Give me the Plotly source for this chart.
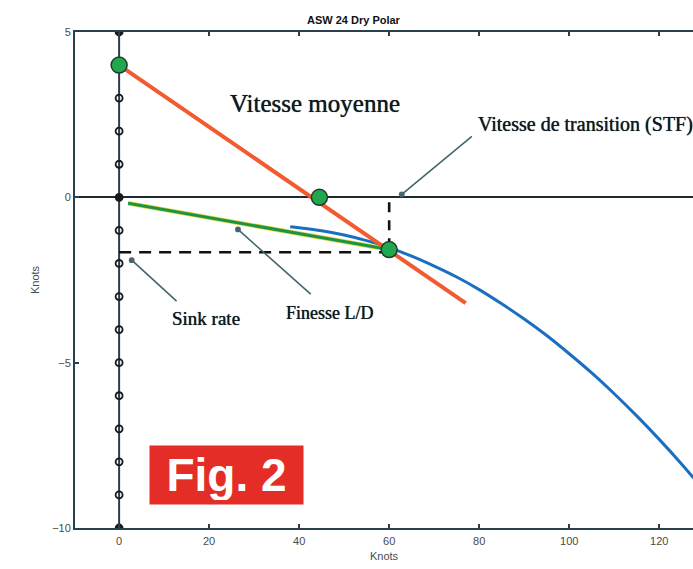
import plotly.graph_objects as go

# ASW 24 dry polar (speed in knots, sink in knots)
polar_speed = [38, 40, 45, 50, 55, 60, 65, 70, 75, 80, 85, 90, 95, 100, 105, 110, 115, 120, 125, 130]
polar_sink = [-0.89, -0.92, -1.01, -1.14, -1.31, -1.52, -1.78, -2.08, -2.41, -2.79, -3.22, -3.68,
              -4.18, -4.73, -5.31, -5.94, -6.61, -7.32, -8.07, -8.87]

# MacCready line from the climb rate (4 kt) through the speed-to-fly point
mc_speed = [0, 77]
mc_sink = [4.0, -3.2]

# Glide ratio line (L/D)
ld_speed = [2, 60]
ld_sink = [-0.18, -1.58]

# Key points: climb rate, average speed, speed-to-fly
key_speed = [0, 44.5, 60]
key_sink = [4.0, 0.0, -1.58]

# Speed-to-fly / sink-rate reference
stf_speed = 60
stf_sink = -1.66

# Vertical scale on the speed = 0 axis
scale_y = list(range(5, -11, -1))

axis_col = "#27404c"
text_col = "#111a22"
lead_col = "#46656f"

fig = go.Figure()

# vertical scale line at speed 0
fig.add_trace(go.Scatter(
    x=[0] * len(scale_y), y=scale_y, mode="lines+markers",
    line=dict(color=axis_col, width=2),
    marker=dict(
        symbol=["circle" if v in (5, 0, -10) else "circle-open" for v in scale_y],
        size=7,
        color="#1a1a1a", line=dict(color="#1a1a1a", width=1.8)),
    hoverinfo="skip", showlegend=False))

# dashed reference lines
fig.add_trace(go.Scatter(
    x=[0, stf_speed], y=[stf_sink, stf_sink], mode="lines",
    line=dict(color="#111111", width=2.6, dash="12px,8px"),
    showlegend=False, hoverinfo="skip"))
fig.add_trace(go.Scatter(
    x=[stf_speed, stf_speed], y=[-0.15, stf_sink], mode="lines",
    line=dict(color="#111111", width=2.6, dash="10px,8px"),
    showlegend=False, hoverinfo="skip"))

# polar curve
fig.add_trace(go.Scatter(
    x=polar_speed, y=polar_sink, mode="lines", line=dict(color="#1b6fc2", width=3, shape="spline"),
    showlegend=False, hoverinfo="skip"))

# L/D line
fig.add_trace(go.Scatter(
    x=ld_speed, y=ld_sink, mode="lines", line=dict(color="#e3d84a", width=4.5),
    showlegend=False, hoverinfo="skip"))
fig.add_trace(go.Scatter(
    x=ld_speed, y=ld_sink, mode="lines", line=dict(color="#1f9440", width=3),
    showlegend=False, hoverinfo="skip"))

# MacCready line
fig.add_trace(go.Scatter(
    x=mc_speed, y=mc_sink, mode="lines", line=dict(color="#f25a30", width=4),
    showlegend=False, hoverinfo="skip"))

# key points
fig.add_trace(go.Scatter(
    x=key_speed, y=key_sink, mode="markers",
    marker=dict(size=16, color="#22a84c", line=dict(color="#1f3a2c", width=1.5)),
    showlegend=False, hoverinfo="skip"))

serif = "Liberation Serif, Times New Roman, serif"
heavy = "0px 0px 0.7px #111a22"
annotations = [
    dict(x=24.3, y=2.85, text="Vitesse moyenne", showarrow=False, xanchor="left",
         font=dict(family=serif, size=25, color=text_col, shadow=heavy)),
    dict(x=79.2, y=2.2, text="Vitesse de transition (STF)", showarrow=False, xanchor="left",
         font=dict(family=serif, size=20, color=text_col, shadow=heavy)),
    dict(x=19.4, y=-3.67, text="Sink rate", showarrow=False,
         font=dict(family=serif, size=19, color=text_col, shadow=heavy)),
    dict(x=46.8, y=-3.5, text="Finesse L/D", showarrow=False,
         font=dict(family=serif, size=18, color=text_col, shadow=heavy)),
    # leader lines
    dict(x=2.8, y=-1.9, ax=13.1, ay=-3.18, axref="x", ayref="y", text="", showarrow=True,
         arrowhead=6, arrowsize=0.9, arrowwidth=1.6, arrowcolor=lead_col),
    dict(x=26.4, y=-0.97, ax=42.9, ay=-2.97, axref="x", ayref="y", text="", showarrow=True,
         arrowhead=6, arrowsize=0.9, arrowwidth=1.6, arrowcolor=lead_col),
    dict(x=62.8, y=0.09, ax=78.7, ay=1.88, axref="x", ayref="y", text="", showarrow=True,
         arrowhead=6, arrowsize=0.9, arrowwidth=1.6, arrowcolor=lead_col),
    # figure badge
    dict(x=23.9, y=-8.39, text="<b>Fig. 2</b>", showarrow=False, bgcolor="#e52d27",
         width=145, height=50, borderpad=4, xanchor="center", yanchor="middle",
         font=dict(family="Liberation Sans, Arial, sans-serif", size=46, color="white")),
]

tick_font = dict(family="Liberation Sans, Arial, sans-serif", size=11, color="#4a4a4a")

fig.update_layout(
    width=693, height=569,
    margin=dict(l=75, r=0, t=32, b=41),
    paper_bgcolor="white", plot_bgcolor="white",
    title=dict(text="<b>ASW 24 Dry Polar</b>", x=0.51, xanchor="center",
               y=1 - 20 / 569, yanchor="middle", yref="container",
               font=dict(family="Liberation Sans, Arial, sans-serif", size=11, color="#111111")),
    annotations=annotations,
    xaxis=dict(range=[-9.8, 127.5], tickvals=[0, 20, 40, 60, 80, 100, 120],
               showgrid=False, zeroline=False, showline=True, linecolor=axis_col, linewidth=2,
               mirror="ticks", ticks="inside", ticklen=4, tickcolor=axis_col, tickwidth=1.5,
               tickfont=tick_font, ticklabelstandoff=2,
               title=dict(text="Knots", standoff=6, font=tick_font)),
    yaxis=dict(range=[-10, 5], tickvals=[-10, -5, 0, 5],
               showgrid=False, zeroline=True, zerolinecolor="#1e2a30", zerolinewidth=2,
               showline=True, linecolor=axis_col, linewidth=2, mirror=False,
               ticks="inside", ticklen=4, tickcolor=axis_col, tickwidth=1.5,
               tickfont=tick_font,
               title=dict(text="Knots", standoff=10, font=tick_font)),
)

fig.write_html("out.html")
